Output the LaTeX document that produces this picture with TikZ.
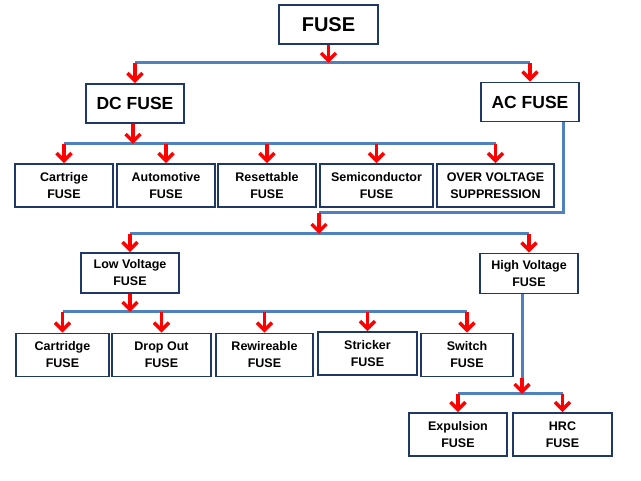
\documentclass[tikz,border=0pt]{standalone}
\usepackage{fontspec}
\setmainfont{Liberation Sans}
\usetikzlibrary{arrows.meta,calc}
\definecolor{busblue}{RGB}{79,129,189}
\definecolor{boxnavy}{RGB}{31,56,100}

\begin{document}
\begin{tikzpicture}[x=1pt, y=-1pt, style={
    fusebox/.style={
      draw=boxnavy, line width=1.9pt, fill=white,
      align=center, inner sep=0pt,
      minimum height=43pt,
      font=\bfseries\fontsize{12.5}{17}\selectfont,
    },
    headbox/.style={
      fusebox,
      minimum width=98pt, minimum height=39pt,
      font=\bfseries\fontsize{17.5}{20}\selectfont,
    },
    voltbox/.style={
      fusebox,
      minimum width=98pt, minimum height=40pt,
    },
    bus/.style={draw=busblue, line width=3pt},
    redarrow/.style={-{Straight Barb[length=7.5pt,width=15pt]}, draw=red, line width=3.5pt}
  }]
  \useasboundingbox (0,0) rectangle (641,481);

  % the boxes
  \node[fusebox, minimum width=99pt, minimum height=39pt,
    font=\bfseries\fontsize{20}{24}\selectfont] (fuse) at (328.5,24.5) {FUSE};
  \node[headbox] (dc) at (135,103.5) {DC FUSE};
  \node[headbox] (ac) at (530,102) {AC FUSE};

  \node[fusebox, minimum width=98pt] (cartrige) at (64,185.5) {Cartrige\\FUSE};
  \node[fusebox, minimum width=98pt] (automotive) at (166,185.5) {Automotive\\FUSE};
  \node[fusebox, minimum width=98pt] (resettable) at (267,185.5) {Resettable\\FUSE};
  \node[fusebox, minimum width=113pt] (semicond) at (376.5,185.5) {Semiconductor\\FUSE};
  \node[fusebox, minimum width=117pt] (overvolt) at (495.5,185.5) {OVER VOLTAGE\\SUPPRESSION};

  \node[voltbox] (lv) at (130,273) {Low Voltage\\FUSE};
  \node[voltbox] (hv) at (529,273.5) {High Voltage\\FUSE};

  \node[fusebox, minimum width=93pt] (cartridge) at (62.5,355) {Cartridge\\FUSE};
  \node[fusebox, minimum width=99pt] (dropout) at (161.5,355) {Drop Out\\FUSE};
  \node[fusebox, minimum width=97pt] (rewireable) at (264.5,355) {Rewireable\\FUSE};
  \node[fusebox, minimum width=99pt] (stricker) at (367.5,353.5) {Stricker\\FUSE};
  \node[fusebox, minimum width=92pt] (switch) at (467,355) {Switch\\FUSE};

  \node[fusebox, minimum width=98pt] (expulsion) at (458,434.5) {Expulsion\\FUSE};
  \node[fusebox, minimum width=99pt] (hrc) at (562.5,434.5) {HRC\\FUSE};

  % top level
  \coordinate (topbus) at (328.5,63);
  \draw[bus] (dc |- topbus) -- (ac |- topbus);
  \draw[redarrow] (fuse) -- (topbus);
  \draw[redarrow] (dc |- topbus) -- (dc);
  \draw[redarrow] (ac |- topbus) -- (ac);

  % dc fuses
  \coordinate (dcbus) at (133,144);
  \draw[bus] (cartrige |- dcbus) -- (overvolt |- dcbus);
  \draw[redarrow] (dc.south -| dcbus) -- (dcbus);
  \draw[redarrow] (cartrige |- dcbus) -- (cartrige);
  \draw[redarrow] (automotive |- dcbus) -- (automotive);
  \draw[redarrow] (resettable |- dcbus) -- (resettable);
  \draw[redarrow] (semicond |- dcbus) -- (semicond);
  \draw[redarrow] (overvolt |- dcbus) -- (overvolt);

  % ac fuses
  \coordinate (acbus) at (319,213);
  \coordinate (vbus) at (319,234);
  \draw[bus] ($(ac.south)+(33,0)$) |- (acbus);
  \draw[bus] (lv |- vbus) -- (hv |- vbus);
  \draw[redarrow] (acbus) -- (vbus);
  \draw[redarrow] (lv |- vbus) -- (lv);
  \draw[redarrow] (hv |- vbus) -- (hv);

  % low voltage
  \coordinate (lvbus) at (130,312);
  \draw[bus] (cartridge |- lvbus) -- (switch |- lvbus);
  \draw[redarrow] (lv) -- (lvbus);
  \draw[redarrow] (cartridge |- lvbus) -- (cartridge);
  \draw[redarrow] (dropout |- lvbus) -- (dropout);
  \draw[redarrow] (rewireable |- lvbus) -- (rewireable);
  \draw[redarrow] (stricker |- lvbus) -- (stricker);
  \draw[redarrow] (switch |- lvbus) -- (switch);

  % high voltage
  \coordinate (hvbend) at (522,378);
  \coordinate (hvbus) at (522,394);
  \draw[bus] (hv.south -| hvbend) -- (hvbend);
  \draw[bus] (expulsion |- hvbus) -- (hrc |- hvbus);
  \draw[redarrow] (hvbend) -- (hvbus);
  \draw[redarrow] (expulsion |- hvbus) -- (expulsion);
  \draw[redarrow] (hrc |- hvbus) -- (hrc);
\end{tikzpicture}
\end{document}
